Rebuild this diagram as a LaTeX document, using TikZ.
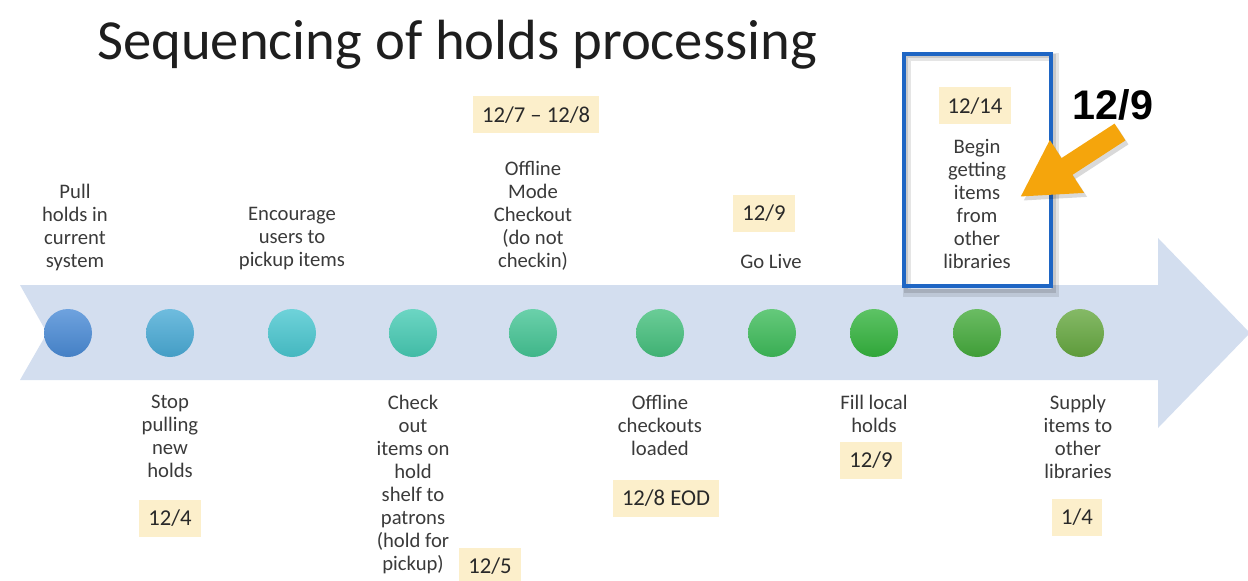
\documentclass[tikz,border=0pt]{standalone}
\usepackage{fontspec}
\setmainfont{Carlito}
\newfontfamily\headfont{Liberation Sans}
\usetikzlibrary{arrows.meta}

\definecolor{band}{HTML}{D3DEEF}
\definecolor{datefill}{HTML}{FCEFCB}
\definecolor{labeltext}{HTML}{3A3A3A}
\definecolor{titletext}{HTML}{1E1E1E}
\definecolor{focusblue}{HTML}{1F66C4}
\definecolor{callout}{HTML}{F5A50C}
% milestone colours, blue through green
\definecolor{m1}{HTML}{4A8BD6}
\definecolor{m2}{HTML}{4AABD6}
\definecolor{m3}{HTML}{4AC7D0}
\definecolor{m4}{HTML}{47CBB4}
\definecolor{m5}{HTML}{45C595}
\definecolor{m6}{HTML}{45C07D}
\definecolor{m7}{HTML}{3EBC5A}
\definecolor{m8}{HTML}{34B43E}
\definecolor{m9}{HTML}{45AB3C}
\definecolor{m10}{HTML}{66A840}

\begin{document}
\begin{tikzpicture}[x=0.75pt,y=-0.75pt,
  lbl/.style={font=\fontsize{15.5}{17.25}\selectfont, text=labeltext, align=center, inner sep=0pt, anchor=north},
  datebox/.style={fill=datefill, font=\fontsize{17}{20}\selectfont, text=labeltext!70!black,
    inner xsep=6.75pt, inner ysep=0pt, text height=10.7pt, text depth=0pt, minimum height=27.75pt},
  milestone/.style={circle, minimum size=36pt, inner sep=0pt,
    top color=#1!80!white, bottom color=#1!92!black},
  focusframe/.style={draw=focusblue, line width=3pt, outer sep=0pt, inner sep=0pt,
    minimum width=110.25pt, minimum height=174pt},
  calloutarrow/.style={line width=15pt, -{Triangle[length=42pt,width=44pt]}}
]
\useasboundingbox (0,0) rectangle (1248,581);

% title
\node[anchor=base west, inner sep=0pt, font=\fontsize{42.5}{50}\selectfont, text=titletext]
  (title) at (97,60) {Sequencing of holds processing};

% timeline band with notched tail and arrow head
\fill[band] (20,285) -- (1158,285) -- (1158,238) -- (1250,333) -- (1158,428)
  -- (1158,380) -- (20,380) -- (47,333) -- cycle;

% highlighted step frame with its soft shadow
\draw[black, opacity=.10, line width=6pt] (907,57) rectangle (1055,293);
\draw[black, opacity=.12, line width=3pt] (906,56) rectangle (1054,291);
\node[focusframe] (focus) at (977.5,170) {};

% milestones
\node[milestone=m1]  (s1)  at (68,333)  {};
\node[milestone=m2]  (s2)  at (170,333) {};
\node[milestone=m3]  (s3)  at (292,333) {};
\node[milestone=m4]  (s4)  at (413,333) {};
\node[milestone=m5]  (s5)  at (533,333) {};
\node[milestone=m6]  (s6)  at (660,333) {};
\node[milestone=m7]  (s7)  at (772,333) {};
\node[milestone=m8]  (s8)  at (874,333) {};
\node[milestone=m9]  (s9)  at (977,333) {};
\node[milestone=m10] (s10) at (1080,333) {};

% labels above the band
\node[lbl] (l1) at (75,184)  {Pull\\holds in\\current\\system};
\node[lbl] (l3) at (292,207) {Encourage\\users to\\pickup items};
\node[lbl] (l5) at (533,161) {Offline\\Mode\\Checkout\\(do not\\checkin)};
\node[lbl] (l7) at (771,254) {Go Live};
\node[lbl] (l9) at (977,139) {Begin\\getting\\items\\from\\other\\libraries};

% labels below the band
\node[lbl] (l2)  at (170,395)  {Stop\\pulling\\new\\holds};
\node[lbl] (l4)  at (413,395)  {Check\\out\\items on\\hold\\shelf to\\patrons\\(hold for\\pickup)};
\node[lbl] (l6)  at (660,395)  {Offline\\checkouts\\loaded};
\node[lbl] (l8)  at (874,395)  {Fill local\\holds};
\node[lbl] (l10) at (1078,395) {Supply\\items to\\other\\libraries};

% dates
\node[datebox] (d5)  at (536,115) {12/7 -- 12/8};
\node[datebox] (d7)  at (764,213) {12/9};
\node[datebox] (d9)  at (975,106) {12/14};
\node[datebox] (d2)  at (170,518) {12/4};
\node[datebox] (d4)  at (490,566) {12/5};
\node[datebox] (d6)  at (666,498) {12/8 EOD};
\node[datebox] (d8)  at (871,460) {12/9};
\node[datebox] (d10) at (1077,517) {1/4};

% call-out date and its arrow
\node[anchor=base, inner sep=0pt, font=\headfont\bfseries\fontsize{31}{36}\selectfont]
  (golive) at (1113,120) {12/9};
\coordinate (calloutTail) at (1120,132);
\coordinate (calloutTip)  at (1020,197);
\draw[calloutarrow, black, opacity=.15] ([shift={(3,4)}]calloutTail) -- ([shift={(3,4)}]calloutTip);
\draw[calloutarrow, callout] (calloutTail) -- (calloutTip);
\end{tikzpicture}
\end{document}
